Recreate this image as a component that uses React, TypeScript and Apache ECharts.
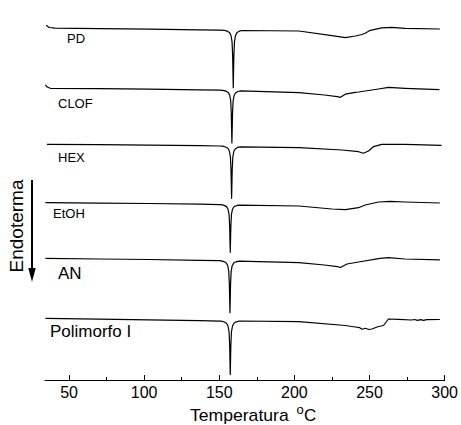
import React, { useEffect, useRef } from "react";
import * as echarts from "echarts";

const FONT = '"Liberation Sans", Arial, Helvetica, sans-serif';

// Sample names (top to bottom)
const sampleNames = ["PD", "CLOF", "HEX", "EtOH", "AN", "Polimorfo I"];

// X axis tick values (°C)
const xTicks = [50, 100, 150, 200, 250, 300];
const xMinorTicks = [75, 125, 175, 225, 275];

// DSC curves: [temperature °C, heat flow (arb. units, vertically offset)]
const pd: [number, number][] = [
  [34.8, 35.47], [36.8, 35.25], [40.7, 35.18], [70.5, 35.14], [103.6, 35.09],
  [136.8, 35.02], [150, 34.98], [153.3, 34.96], [155.3, 34.88], [156.8, 34.74],
  [157.8, 34.45], [158.5, 33.82], [158.9, 32.37], [159.3, 29.23], [159.7, 32.37],
  [160.1, 33.82], [160.8, 34.45], [161.8, 34.74], [163.3, 34.88], [165.3, 34.95],
  [203, 34.9], [225, 34.43], [233.9, 34.23], [240.5, 34.4], [245, 34.55],
  [247.1, 34.67], [250.5, 34.97], [258.2, 35.22], [264.8, 35.27], [273.6, 35.17],
  [296.8, 35.1],
];

const clof: [number, number][] = [
  [34.3, 29.5], [35.5, 29.3], [37.5, 29.17], [70, 29.13], [103, 29.08],
  [137, 29.02], [150, 28.99], [152.4, 28.97], [154.4, 28.89], [155.9, 28.76],
  [156.9, 28.5], [157.6, 27.92], [158.0, 26.6], [158.4, 23.7], [158.8, 26.58],
  [159.2, 27.9], [159.9, 28.47], [160.9, 28.72], [162.4, 28.85], [164.4, 28.91],
  [203, 28.73], [220, 28.5], [228.6, 28.33], [230.6, 28.27], [233.9, 28.58],
  [240.5, 28.77], [242.7, 28.8], [256, 29.1], [262.6, 29.26], [273.6, 29.17],
  [296.5, 29.04],
];

const hex: [number, number][] = [
  [35.3, 23.57], [70, 23.53], [103, 23.48], [137, 23.43], [150, 23.4],
  [152.2, 23.38], [154.2, 23.3], [155.7, 23.17], [156.7, 22.9], [157.4, 22.33],
  [157.8, 21.03], [158.2, 18.17], [158.6, 21.0], [159.0, 22.3], [159.7, 22.87],
  [160.7, 23.13], [162.2, 23.26], [164.2, 23.32], [203, 23.23], [231.7, 23.0],
  [242.7, 22.83], [246, 22.67], [249.3, 22.9], [252.6, 23.33], [258.2, 23.56],
  [273.6, 23.57], [297.9, 23.47],
];

const etoh: [number, number][] = [
  [34.3, 17.73], [70, 17.69], [103, 17.65], [137, 17.58], [150, 17.54],
  [151.3, 17.53], [153.3, 17.46], [154.8, 17.34], [155.8, 17.1], [156.5, 16.57],
  [156.9, 15.38], [157.3, 12.77], [157.7, 15.36], [158.1, 16.55], [158.8, 17.08],
  [159.8, 17.32], [161.3, 17.43], [163.3, 17.48], [203, 17.4], [225, 17.1],
  [233.9, 17.03], [242.7, 17.23], [247.1, 17.5], [256, 17.8], [263.7, 17.87],
  [273.6, 17.8], [296.8, 17.7],
];

const an: [number, number][] = [
  [34.3, 12.17], [70, 12.1], [103, 12.05], [137, 11.97], [150, 11.93],
  [151.1, 11.92], [153.1, 11.84], [154.6, 11.71], [155.6, 11.45], [156.3, 10.88],
  [156.7, 9.58], [157.1, 6.73], [157.5, 9.56], [157.9, 10.86], [158.6, 11.43],
  [159.6, 11.69], [161.1, 11.82], [163.1, 11.88], [203, 11.73], [220, 11.5],
  [228.6, 11.33], [230.6, 11.25], [235, 11.6], [242.7, 11.8], [257, 12.17],
  [262.6, 12.23], [273.6, 12.1], [296.8, 12.02],
];

const polI: [number, number][] = [
  [34.3, 6.17], [70, 6.08], [103, 6.01], [137, 5.93], [150, 5.89],
  [151.3, 5.88], [153.3, 5.8], [154.8, 5.67], [155.8, 5.4], [156.5, 4.82],
  [156.9, 3.5], [157.3, 0.55], [157.7, 3.5], [158.1, 4.82], [158.8, 5.4],
  [159.8, 5.67], [161.3, 5.82], [163.3, 5.9], [203, 5.83], [233.9, 5.45],
  [240.5, 5.3], [243.5, 5.23], [245, 5.07], [247.2, 5.17], [249.5, 5.05],
  [251.5, 5.1], [256, 5.35], [259.3, 5.45], [262.6, 6.1], [269.2, 6.07],
  [278, 6.0], [280, 6.05], [282, 5.97], [284, 6.04], [286, 5.97],
  [288, 6.03], [296.8, 6.05],
];

const curves = [pd, clof, hex, etoh, an, polI];

// label layout (pixels) — style only
const labelLayout = [
  { x: 67, y: 38.5, size: 13 },
  { x: 58, y: 103.5, size: 13 },
  { x: 58, y: 157.2, size: 13 },
  { x: 53, y: 213.5, size: 13 },
  { x: 58, y: 273.5, size: 17 },
  { x: 50, y: 331.2, size: 17 },
];

export default function App() {
  const ref = useRef<HTMLDivElement>(null);

  useEffect(() => {
    const chart = echarts.init(ref.current!, null, { renderer: "svg" });
    chart.setOption({
      animation: false,
      backgroundColor: "#fff",
      grid: { left: 45, right: 14.3, top: 0, bottom: 45, containLabel: false },
      xAxis: [
        {
          type: "value",
          min: 34,
          max: 300,
          axisLine: { show: true, onZero: false, lineStyle: { color: "#000", width: 1 } },
          axisTick: {
            show: true,
            inside: true,
            length: 5,
            customValues: xTicks,
            lineStyle: { color: "#000", width: 1 },
          },
          axisLabel: {
            customValues: xTicks,
            fontSize: 16,
            color: "#000",
            fontFamily: FONT,
            margin: 4,
          },
          splitLine: { show: false },
        },
        {
          type: "value",
          min: 34,
          max: 300,
          position: "bottom",
          axisLine: { show: false, onZero: false },
          axisTick: {
            show: true,
            inside: true,
            length: 3,
            customValues: xMinorTicks,
            lineStyle: { color: "#000", width: 1 },
          },
          axisLabel: { show: false },
          splitLine: { show: false },
        },
      ],
      yAxis: {
        type: "value",
        min: 0,
        max: 38,
        show: false,
      },
      series: curves.map((data, i) => ({
        name: sampleNames[i],
        type: "line",
        data,
        xAxisIndex: 0,
        showSymbol: false,
        symbol: "none",
        silent: true,
        clip: false,
        lineStyle: { color: "#000", width: 1.2, join: "round" },
      })),
      graphic: [
        ...sampleNames.map((name, i) => ({
          type: "text",
          x: labelLayout[i].x,
          y: labelLayout[i].y,
          silent: true,
          style: {
            text: name,
            fontSize: labelLayout[i].size,
            fontFamily: FONT,
            fill: "#000",
            align: "left",
            verticalAlign: "middle",
          },
        })),
        {
          type: "text",
          x: 190,
          y: 416,
          scaleX: 1.1,
          silent: true,
          style: {
            text: "Temperatura",
            fontSize: 16,
            lineHeight: 16,
            fontFamily: FONT,
            fill: "#000",
            align: "left",
            verticalAlign: "middle",
          },
        },
        {
          type: "text",
          x: 296.5,
          y: 409,
          silent: true,
          style: {
            text: "o",
            fontSize: 13,
            lineHeight: 13,
            fontFamily: FONT,
            fill: "#000",
            align: "left",
            verticalAlign: "middle",
          },
        },
        {
          type: "text",
          x: 304,
          y: 415,
          silent: true,
          style: {
            text: "C",
            fontSize: 17,
            lineHeight: 17,
            fontFamily: FONT,
            fill: "#000",
            align: "left",
            verticalAlign: "middle",
          },
        },
        {
          type: "text",
          x: 16.5,
          y: 226,
          rotation: Math.PI / 2,
          silent: true,
          style: {
            text: "Endoterma",
            fontSize: 19,
            fontFamily: FONT,
            fill: "#000",
            align: "center",
            verticalAlign: "middle",
          },
        },
        {
          type: "line",
          silent: true,
          shape: { x1: 32, y1: 180, x2: 32, y2: 272 },
          style: { stroke: "#000", lineWidth: 2 },
        },
        {
          type: "polygon",
          silent: true,
          shape: { points: [[28.3, 268], [35.7, 268], [32, 282]] },
          style: { fill: "#000" },
        },
      ],
    });
    return () => chart.dispose();
  }, []);

  return (
    <div
      ref={ref}
      style={{ position: "fixed", left: 0, top: 0, width: 461, height: 425, background: "#fff" }}
    />
  );
}
